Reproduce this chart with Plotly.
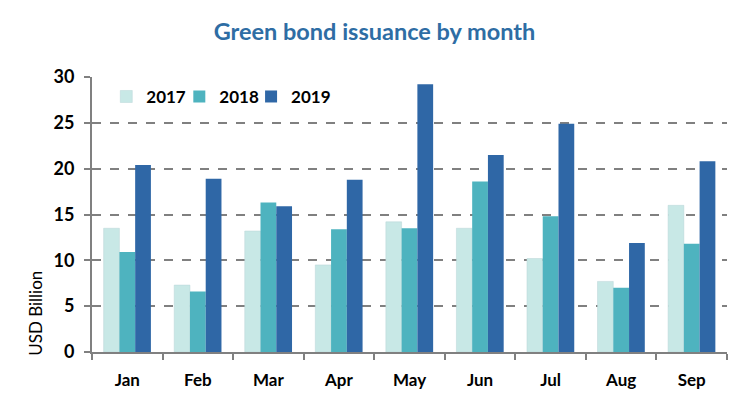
import plotly.graph_objects as go

months = ["Jan", "Feb", "Mar", "Apr", "May", "Jun", "Jul", "Aug", "Sep"]
y2017 = [13.5, 7.3, 13.2, 9.5, 14.2, 13.5, 10.2, 7.7, 16.0]
y2018 = [10.9, 6.6, 16.3, 13.4, 13.5, 18.6, 14.8, 7.0, 11.8]
y2019 = [20.4, 18.9, 15.9, 18.8, 29.2, 21.5, 24.9, 11.9, 20.8]
y_ticks = [0, 5, 10, 15, 20, 25, 30]

fig = go.Figure()
fig.add_trace(go.Bar(name="<b>2017</b>", x=months, y=y2017, marker_color="#C8E8E6",
                     marker_line=dict(color="#B8D4D6", width=0.5), legend="legend"))
fig.add_trace(go.Bar(name="<b>2018</b>", x=months, y=y2018, marker_color="#4EB3BF",
                     marker_line_width=0, legend="legend2"))
fig.add_trace(go.Bar(name="<b>2019</b>", x=months, y=y2019, marker_color="#2F67A6",
                     marker_line_width=0, legend="legend3"))

leg_common = dict(orientation="h", y=0.993, xanchor="left", yanchor="top",
                  bgcolor="rgba(0,0,0,0)",
                  font=dict(size=17, family="Lato", color="black"))

fig.update_layout(
    width=749, height=406,
    margin=dict(l=92, r=22, t=77, b=54),
    paper_bgcolor="white", plot_bgcolor="white",
    barmode="group", bargap=0.33, bargroupgap=0,
    font=dict(family="Lato", color="black"),
    title=dict(text="<b>Green bond issuance by month</b>", x=0.5, xanchor="center",
               y=0.921, yanchor="middle",
               font=dict(family="Lato", size=23.5, color="#2E6DA4")),
    legend=dict(x=0.0225, **leg_common),
    legend2=dict(x=0.1375, **leg_common),
    legend3=dict(x=0.2505, **leg_common),
    showlegend=True,
    annotations=[dict(text="USD Billion", textangle=-90, xref="paper", yref="paper",
                      x=-0.09, y=-0.02, xanchor="center", yanchor="bottom",
                      showarrow=False, font=dict(size=17, family="Lato", color="black"))],
)
fig.update_xaxes(
    showline=True, linecolor="#808080", linewidth=2,
    ticks="outside", tickson="boundaries", ticklen=6, tickcolor="#808080", tickwidth=2,
    tickfont=dict(size=17, family="Lato", color="black", weight="bold"),
    ticklabelstandoff=12,
    showgrid=False,
)
fig.update_yaxes(
    range=[0, 30], tickvals=y_ticks, ticktext=[str(v) for v in y_ticks],
    showline=True, linecolor="#808080", linewidth=2,
    ticks="outside", ticklen=6, tickcolor="#808080", tickwidth=2,
    tickfont=dict(size=18, family="Lato", color="black", weight="bold"),
    ticklabelstandoff=6,
    showgrid=True, gridcolor="#808080", gridwidth=2, griddash="dash",
    zeroline=False,
)

fig.write_html("out.html", config={"displayModeBar": False},
               post_script="document.body.style.margin='0';")
